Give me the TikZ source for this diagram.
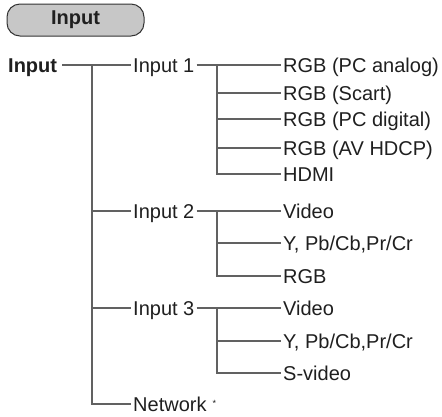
\documentclass[tikz,border=0pt]{standalone}
\usepackage{fontspec}
\setmainfont{Liberation Sans}
\begin{document}
\begin{tikzpicture}[x=1pt,y=-1pt,
  every node/.style={text=black!88},
  lbl/.style={anchor=west, inner xsep=2pt, inner ysep=0pt, text height=14pt, text depth=0pt,
    font=\fontsize{20}{22}\selectfont},
  conn/.style={draw=black!62, line width=1.1pt},
  hdr/.style={draw=black!80, line width=1pt, fill=black!22, rounded corners=13pt,
    minimum width=137pt, minimum height=32pt, inner sep=0pt,
    font=\fontsize{20}{22}\selectfont\bfseries}]
\useasboundingbox (0,0) rectangle (442,416);
% header
\node[hdr] (head) at (75.5,20) {Input};
% first and second level
\node[lbl, inner xsep=5pt, font=\fontsize{20}{22}\selectfont\bfseries] (root) at (3,65) {Input};
\node[lbl] (i1) at (131,65) {Input 1};
\node[lbl] (i2) at (131,211) {Input 2};
\node[lbl] (i3) at (131,308) {Input 3};
\node[lbl] (net) at (131,404) {Network\hspace{6pt}\raisebox{5pt}{\fontsize{9}{9}\selectfont *}};
% leaves
\node[lbl] (a1) at (281,65) {RGB (PC analog)};
\node[lbl] (a2) at (281,93) {RGB (Scart)};
\node[lbl] (a3) at (281,119) {RGB (PC digital)};
\node[lbl] (a4) at (281,148) {RGB (AV HDCP)};
\node[lbl] (a5) at (281,174) {HDMI};
\node[lbl] (b1) at (281,211) {Video};
\node[lbl] (b2) at (281,243) {Y, Pb/Cb,Pr/Cr};
\node[lbl] (b3) at (281,276) {RGB};
\node[lbl] (c1) at (281,308) {Video};
\node[lbl] (c2) at (281,341) {Y, Pb/Cb,Pr/Cr};
\node[lbl] (c3) at (281,373) {S-video};
% junction coordinates
\coordinate (jm) at (92,65);
\coordinate (ja) at (217,65);
\coordinate (jb) at (217,211);
\coordinate (jc) at (217,308);
% main trunk
\draw[conn] (root.east) -- (i1.west);
\draw[conn] (jm) |- (net.west);
\draw[conn] (jm |- i2.west) -- (i2.west);
\draw[conn] (jm |- i3.west) -- (i3.west);
% input 1 group
\draw[conn] (i1.east) -- (a1.west);
\draw[conn] (ja) |- (a5.west);
\draw[conn] (ja |- a2.west) -- (a2.west);
\draw[conn] (ja |- a3.west) -- (a3.west);
\draw[conn] (ja |- a4.west) -- (a4.west);
% input 2 group
\draw[conn] (i2.east) -- (b1.west);
\draw[conn] (jb) |- (b3.west);
\draw[conn] (jb |- b2.west) -- (b2.west);
% input 3 group
\draw[conn] (i3.east) -- (c1.west);
\draw[conn] (jc) |- (c3.west);
\draw[conn] (jc |- c2.west) -- (c2.west);
\end{tikzpicture}
\end{document}
